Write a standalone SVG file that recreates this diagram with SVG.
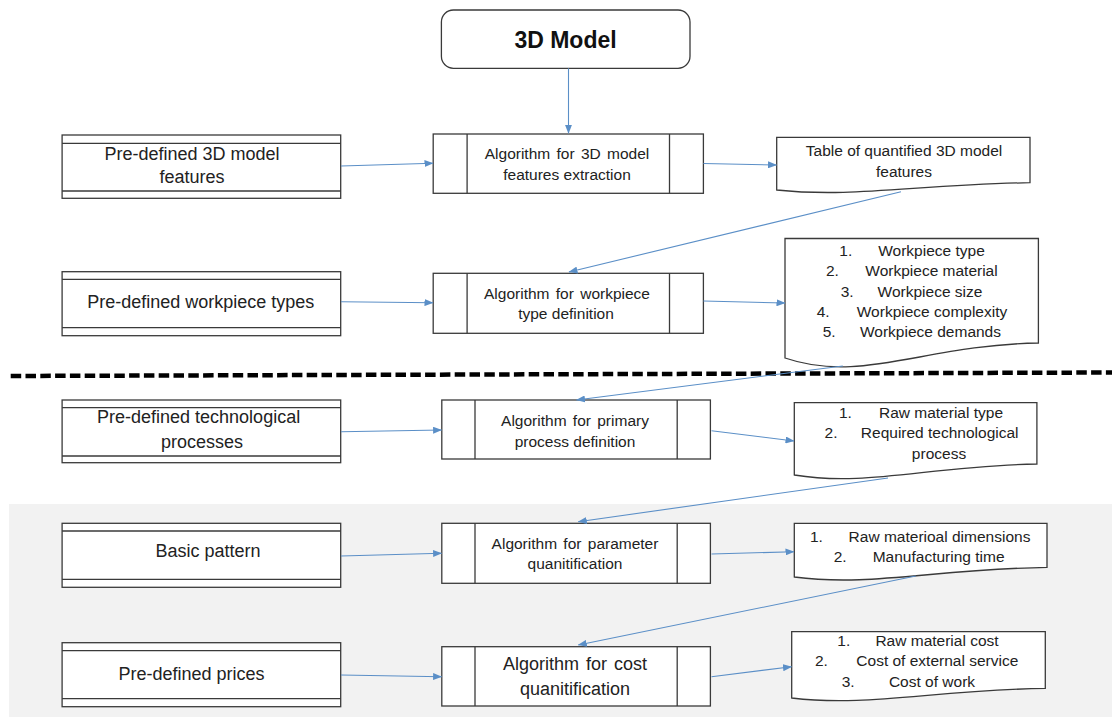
<svg xmlns="http://www.w3.org/2000/svg" width="1112" height="717" viewBox="0 0 1112 717">
<defs>
<marker id="ah" markerWidth="9" markerHeight="7" refX="8.5" refY="3.5" orient="auto" markerUnits="userSpaceOnUse">
<path d="M0,0 L9,3.5 L0,7 z" fill="#5b8fc7"/>
</marker>
<style>
.bx{fill:#fff;stroke:#3a3a3a;stroke-width:1.3}
.ln{stroke:#3a3a3a;stroke-width:1.3}
.t18{font-family:"Liberation Sans",Arial,sans-serif;font-size:18px;fill:#222;text-anchor:middle}
.t15{font-family:"Liberation Sans",Arial,sans-serif;font-size:15.5px;fill:#222;text-anchor:middle}
.n15{font-family:"Liberation Sans",Arial,sans-serif;font-size:15.5px;fill:#222}
.ttl{font-family:"Liberation Sans",Arial,sans-serif;font-size:23px;font-weight:bold;fill:#111;text-anchor:middle}
.ar{stroke:#5b8fc7;stroke-width:1.1;fill:none;marker-end:url(#ah)}
</style>
</defs>
<rect x="0" y="0" width="1112" height="717" fill="#fff"/>
<rect x="9" y="504" width="1103" height="213" fill="#f2f2f2"/>
<line x1="10.7" y1="376" x2="1112" y2="372.5" stroke="#000" stroke-width="4.5" stroke-dasharray="10.5 4.3"/>

<g id="model3d">
<rect class="bx" x="441.4" y="10" width="248.6" height="58.3" rx="12"/>
<text class="ttl" x="565.5" y="48">3D Model</text>
</g>

<g id="in1">
<rect class="bx" x="62.1" y="135" width="278.6" height="63.3"/>
<line class="ln" x1="62.1" y1="143.3" x2="340.7" y2="143.3"/>
<line class="ln" x1="62.1" y1="191" x2="340.7" y2="191"/>
<text class="t18" x="192" y="159.5">Pre-defined 3D model</text>
<text class="t18" x="192" y="183.3">features</text>
</g>
<g id="in2">
<rect class="bx" x="62.1" y="271.7" width="278.6" height="64"/>
<line class="ln" x1="62.1" y1="279.3" x2="340.7" y2="279.3"/>
<line class="ln" x1="62.1" y1="327.7" x2="340.7" y2="327.7"/>
<text class="t18" x="200.7" y="308">Pre-defined workpiece types</text>
</g>
<g id="in3">
<rect class="bx" x="62.1" y="400" width="278.6" height="62.7"/>
<line class="ln" x1="62.1" y1="407.7" x2="340.7" y2="407.7"/>
<line class="ln" x1="62.1" y1="456" x2="340.7" y2="456"/>
<text class="t18" x="198.6" y="423.3">Pre-defined technological</text>
<text class="t18" x="202" y="447.7">processes</text>
</g>
<g id="in4">
<rect class="bx" x="62.1" y="523.3" width="278.6" height="64"/>
<line class="ln" x1="62.1" y1="531" x2="340.7" y2="531"/>
<line class="ln" x1="62.1" y1="579.3" x2="340.7" y2="579.3"/>
<text class="t18" x="208" y="557.3">Basic pattern</text>
</g>
<g id="in5">
<rect class="bx" x="62.1" y="642.7" width="278.6" height="64"/>
<line class="ln" x1="62.1" y1="650.7" x2="340.7" y2="650.7"/>
<line class="ln" x1="62.1" y1="698.7" x2="340.7" y2="698.7"/>
<text class="t18" x="191.6" y="680">Pre-defined prices</text>
</g>

<g id="alg1">
<rect class="bx" x="433.2" y="134" width="270.2" height="59.3"/>
<line class="ln" x1="467.1" y1="134" x2="467.1" y2="193.3"/>
<line class="ln" x1="669.5" y1="134" x2="669.5" y2="193.3"/>
<text class="t15" x="567" y="159.2" word-spacing="2">Algorithm for 3D model</text>
<text class="t15" x="567" y="179.5">features extraction</text>
</g>
<g id="alg2">
<rect class="bx" x="433.2" y="273.3" width="270.2" height="60"/>
<line class="ln" x1="467.1" y1="273.3" x2="467.1" y2="333.3"/>
<line class="ln" x1="669.5" y1="273.3" x2="669.5" y2="333.3"/>
<text class="t15" x="567" y="299" word-spacing="2">Algorithm for workpiece</text>
<text class="t15" x="566" y="318.8">type definition</text>
</g>
<g id="alg3">
<rect class="bx" x="441.8" y="400" width="268.6" height="59"/>
<line class="ln" x1="475" y1="400" x2="475" y2="459"/>
<line class="ln" x1="677.2" y1="400" x2="677.2" y2="459"/>
<text class="t15" x="575" y="426" word-spacing="2">Algorithm for primary</text>
<text class="t15" x="575" y="446.5">process definition</text>
</g>
<g id="alg4">
<rect class="bx" x="441.8" y="523.3" width="268.6" height="60"/>
<line class="ln" x1="475" y1="523.3" x2="475" y2="583.3"/>
<line class="ln" x1="677.2" y1="523.3" x2="677.2" y2="583.3"/>
<text class="t15" x="575" y="548.8" word-spacing="2">Algorithm for parameter</text>
<text class="t15" x="575" y="568.8">quanitification</text>
</g>
<g id="alg5">
<rect class="bx" x="441.8" y="646.7" width="268.6" height="59.3"/>
<line class="ln" x1="475" y1="646.7" x2="475" y2="706"/>
<line class="ln" x1="677.2" y1="646.7" x2="677.2" y2="706"/>
<text class="t18" x="575" y="669.7" word-spacing="2">Algorithm for cost</text>
<text class="t18" x="575" y="694.7">quanitification</text>
</g>

<g id="doc1">
<path class="bx" d="M776.7,137.3 H1030 V182.7 C915.9,184.7 852.7,198 776.7,190 Z"/>
<text class="t15" x="904" y="156.2">Table of quantified 3D model</text>
<text class="t15" x="904" y="177.2">features</text>
</g>
<g id="doc2">
<path class="bx" d="M785,238.5 H1038.4 V343 C924,345 861,384 785,358 Z"/>
<text class="n15" x="839.3" y="256.2">1.</text><text class="t15" x="931.5" y="256.2">Workpiece type</text>
<text class="n15" x="826" y="276.2">2.</text><text class="t15" x="931.5" y="276.2">Workpiece material</text>
<text class="n15" x="840.7" y="296.5">3.</text><text class="t15" x="930" y="296.5">Workpiece size</text>
<text class="n15" x="816.7" y="317.2">4.</text><text class="t15" x="932" y="317.2">Workpiece complexity</text>
<text class="n15" x="822.7" y="337.2">5.</text><text class="t15" x="930.5" y="337.2">Workpiece demands</text>
</g>
<g id="doc3">
<path class="bx" d="M794.3,402.7 H1036.9 V464 C927.7,466 867,487 794.3,475 Z"/>
<text class="n15" x="839" y="418.2">1.</text><text class="t15" x="941" y="418.2">Raw material type</text>
<text class="n15" x="824.6" y="438.2">2.</text><text class="t15" x="939.7" y="438.2">Required technological</text>
<text class="t15" x="939" y="458.8">process</text>
</g>
<g id="doc4">
<path class="bx" d="M794.3,523.3 H1047 V567.3 C933.3,569.3 870,587 794.3,577 Z"/>
<text class="n15" x="810" y="542.2">1.</text><text class="t15" x="939.5" y="542.2">Raw materioal dimensions</text>
<text class="n15" x="833.7" y="562.2">2.</text><text class="t15" x="938.6" y="562.2">Manufacturing time</text>
</g>
<g id="doc5">
<path class="bx" d="M791.7,631.7 H1045.3 V688.3 C931.2,690.3 867.8,707 791.7,698 Z"/>
<text class="n15" x="837.3" y="646.2">1.</text><text class="t15" x="937" y="646.2">Raw material cost</text>
<text class="n15" x="815" y="666.2">2.</text><text class="t15" x="937.3" y="666.2">Cost of external service</text>
<text class="n15" x="841.7" y="686.5">3.</text><text class="t15" x="932" y="686.5">Cost of work</text>
</g>

<g id="connectors">
<line class="ar" x1="568.5" y1="68.3" x2="568.5" y2="133.3"/>
<line class="ar" x1="341" y1="166" x2="433" y2="163.3"/>
<line class="ar" x1="703.4" y1="163.5" x2="776.5" y2="165"/>
<line class="ar" x1="901" y1="191.7" x2="569" y2="272"/>
<line class="ar" x1="341" y1="301.7" x2="433" y2="302.7"/>
<line class="ar" x1="703.4" y1="301" x2="785" y2="303"/>
<line class="ar" x1="842.8" y1="366" x2="576.5" y2="400"/>
<line class="ar" x1="341" y1="431.7" x2="441.6" y2="430"/>
<line class="ar" x1="711.5" y1="430.7" x2="794" y2="441"/>
<line class="ar" x1="888" y1="478" x2="578.3" y2="521.7"/>
<line class="ar" x1="341" y1="556" x2="441.6" y2="553.3"/>
<line class="ar" x1="711.5" y1="554" x2="794" y2="551.7"/>
<line class="ar" x1="915.8" y1="576" x2="578.3" y2="645"/>
<line class="ar" x1="341" y1="675" x2="441.6" y2="676.7"/>
<line class="ar" x1="711.5" y1="676.7" x2="791.5" y2="666.7"/>
</g>
</svg>
